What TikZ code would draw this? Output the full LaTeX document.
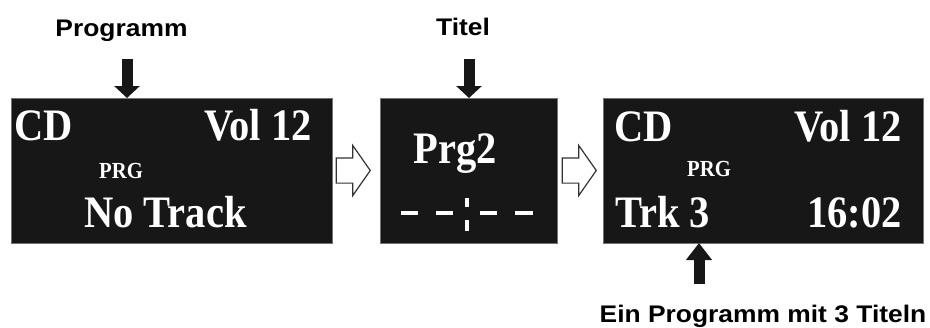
\documentclass[tikz,border=0pt]{standalone}
\usepackage{fontspec}
\setmainfont{Liberation Sans}
\newfontfamily\beschrift[FakeStretch=1.1]{Liberation Sans}
\newfontfamily\anzeige[FakeStretch=0.9]{Liberation Serif}
\usetikzlibrary{arrows.meta,positioning,shapes.arrows}
\definecolor{dunkel}{gray}{0.09}
\tikzset{
>=Stealth,
anzeige box/.style={rectangle,fill=dunkel,draw=black!55,line width=0.6pt,minimum height=145pt,inner sep=0pt,outer sep=0pt},
gross/.style={text=white,inner sep=0pt,font=\anzeige\bfseries\fontsize{45}{45}\selectfont},
klein/.style={text=white,inner sep=0pt,font=\anzeige\bfseries\fontsize{23}{23}\selectfont},
beschriftung/.style={inner sep=0pt,font=\beschrift\bfseries\fontsize{24}{24}\selectfont},
pfeil/.style={draw=dunkel,line width=11pt,-{Triangle[width=25pt,length=12pt]}},
hohlpfeil/.style={single arrow,draw=black!80,fill=white,line width=1.2pt,inner xsep=0pt,inner ysep=12pt,minimum height=34pt,single arrow head extend=12.5pt,single arrow tip angle=110}}

\begin{document}
\begin{tikzpicture}[x=1pt,y=-1pt]

\useasboundingbox (0,0) rectangle (930,327);

\node[anzeige box,minimum width=321pt] (b1) at (171.5,170.5) {};
\node[anzeige box,minimum width=177pt,right=48pt of b1] (b2) {};
\node[anzeige box,minimum width=320pt,right=46pt of b2] (b3) {};

% Anzeige 1
\node[gross,anchor=base west] (cd1) at (14,140) {CD};
\node[gross,anchor=base east] (vol1) at (312,140) {Vol 12};
\node[klein,anchor=base west] (prg1) at (99,178) {PRG};
\node[gross,anchor=base] (notrack) at (165.5,227) {No Track};

% Anzeige 2
\node[gross,anchor=base] (prg2) at (455,163) {Prg2};
\draw[white,line width=4pt]
	(401,212.5) -- (418,212.5) (436,212.5) -- (453,212.5)
	(480,212.5) -- (497,212.5) (515,212.5) -- (533,212.5)
	(467,198) -- (467,207) (467,220) -- (467,231);

% Anzeige 3
\node[gross,anchor=base west] (cd3) at (614,141) {CD};
\node[gross,anchor=base east] (vol3) at (902,141) {Vol 12};
\node[klein,anchor=base west] (prg3) at (687,176) {PRG};
\node[gross,anchor=base west] (trk) at (615,227) {Trk 3};
\node[gross,anchor=base east] (zeit) at (902,227) {16:02};

% Pfeile zwischen den Anzeigen
\node[hohlpfeil,anchor=tip] (p1) at (371,170.5) {};
\node[hohlpfeil,anchor=tip] (p2) at (597,170.5) {};

% Beschriftungen
\node[beschriftung,anchor=base] (programm) at (121.5,36) {Programm};
\node[beschriftung,anchor=base] (titel) at (463,35) {Titel};
\node[beschriftung,anchor=base] (ein) at (763,322) {Ein Programm mit 3 Titeln};

\coordinate (s1) at (127,59);
\coordinate (s2) at (469,59);
\coordinate (s3) at (699,284);
\draw[pfeil] (s1) -- (s1 |- b1.north);
\draw[pfeil] (s2) -- (s2 |- b2.north);
\draw[pfeil,-{Triangle[width=25pt,length=17pt]}] (s3) -- (s3 |- b3.south);
\end{tikzpicture}
\end{document}
